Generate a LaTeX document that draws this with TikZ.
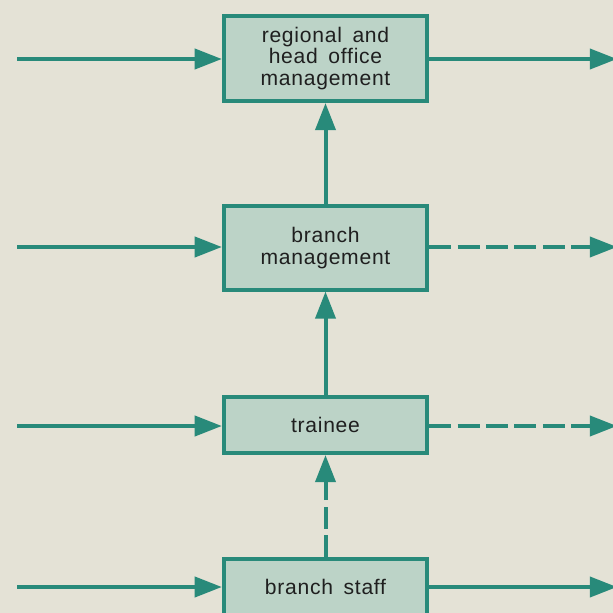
\documentclass[tikz,border=0pt]{standalone}
\usepackage{fontspec}
\setmainfont{Liberation Sans}[LetterSpace=3.5,WordSpace=1.6]
\usetikzlibrary{arrows.meta}
\definecolor{paper}{RGB}{228,226,214}
\definecolor{tealline}{RGB}{40,138,122}
\definecolor{tealfill}{RGB}{188,211,199}
\begin{document}
\begin{tikzpicture}[x=0.025cm,y=-0.025cm,
  level/.style={draw=tealline,fill=tealfill,line width=0.1cm,minimum width=5.08cm,
    inner sep=0pt,align=center,text=black!88,font=\fontsize{15}{15.4}\selectfont},
  flow/.style={draw=tealline,line width=0.1cm,-{Triangle[length=0.68cm,width=0.5cm]}},
  maybe/.style={flow,dash pattern=on 0.55cm off 0.16cm}]
% page
\useasboundingbox (0,0) rectangle (613,613);
\fill[paper] (0,0) rectangle (613,613);
\clip (0,0) rectangle (613,613);
% levels
\node[level,minimum height=2.125cm] (office) at (325.5,58.5) {regional and\\head office\\management};
\node[level,minimum height=2.075cm] (branch) at (325.5,248) {branch\\management};
\node[level,minimum height=1.4cm] (trainee) at (325.5,425) {trainee};
\node[level,minimum height=1.4cm] (staff) at (325.5,587) {branch staff};
% free ends
\coordinate (inA) at (17,59);
\coordinate (inB) at (17,247);
\coordinate (inC) at (17,426);
\coordinate (inD) at (17,587);
\coordinate (outA) at (617,59);
\coordinate (outB) at (617,247);
\coordinate (outC) at (617,426);
\coordinate (outD) at (617,587);
% entries
\draw[flow] (inA) -- (inA -| office.west);
\draw[flow] (inB) -- (inB -| branch.west);
\draw[flow] (inC) -- (inC -| trainee.west);
\draw[flow] (inD) -- (inD -| staff.west);
% exits
\draw[flow] (outA -| office.east) -- (outA);
\draw[maybe] (outB -| branch.east) -- (outB);
\draw[maybe] (outC -| trainee.east) -- (outC);
\draw[flow] (outD -| staff.east) -- (outD);
% promotion
\draw[flow] (branch.north) -- (office.south);
\draw[flow] (trainee.north) -- (branch.south);
\draw[maybe] (staff.north) -- (trainee.south);
\end{tikzpicture}
\end{document}
